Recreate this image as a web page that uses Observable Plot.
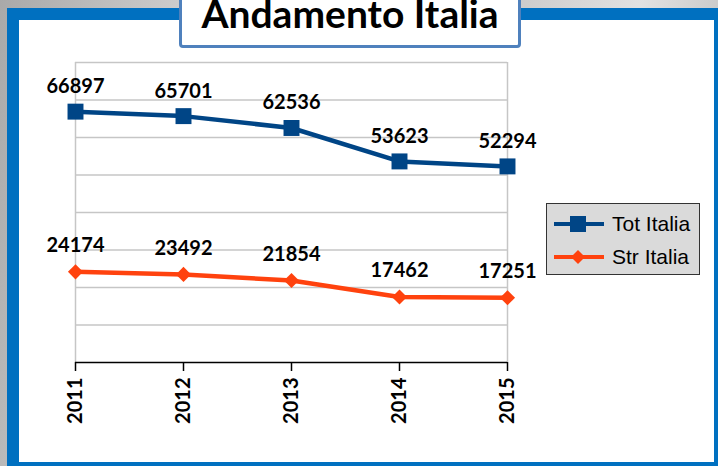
<!DOCTYPE html>
<html>
<head>
<meta charset="utf-8">
<script src="https://cdn.jsdelivr.net/npm/d3@7"></script>
<script src="https://cdn.jsdelivr.net/npm/@observablehq/plot@0.6"></script>
<style>
  html, body { margin: 0; padding: 0; }
  body {
    width: 718px; height: 466px; overflow: hidden; position: relative;
    background: linear-gradient(100deg, #a9a9a9 0%, #d8d8d8 30%, #bdbdbd 55%, #e2e2e2 80%, #b5b5b5 100%);
  }
  #frame {
    position: absolute; left: 7px; top: 8px; width: 695px; height: 442px;
    border-left: 12px solid #0070C0; border-top: 12px solid #0070C0;
    border-right: 6px solid #0070C0; border-bottom: 6px solid #0070C0;
    background: #ffffff;
  }
  #chart { position: absolute; left: 0; top: 0; }
  #titlebox {
    position: absolute; left: 179px; top: -10px; width: 336px; height: 52px;
    border: 3px solid #4F81BD; border-radius: 4px; background: #fff;
    font-family: Lato, "Open Sans", sans-serif; font-weight: bold; font-size: 39px;
    text-align: center; line-height: 1; color: #000; overflow: visible;
  }
  #titlebox span { position: absolute; left: -20px; right: -20px; top: 1px; white-space: nowrap; }
  #legend {
    position: absolute; left: 546px; top: 203px; width: 152px; height: 70px;
    background: #dadada; border: 1.5px solid #333;
    font-family: "Liberation Sans", Arial, sans-serif; font-size: 21px; color: #000;
  }
  .item { position: absolute; left: 7px; height: 24px; display: flex; align-items: center; }
  .item svg { margin-right: 6px; }
</style>
</head>
<body>
<div id="frame"></div>
<div id="chart"></div>
<div id="titlebox"><span>Andamento Italia</span></div>
<div id="legend"></div>
<script>
const years = ["2011", "2012", "2013", "2014", "2015"];
const totItalia = [66897, 65701, 62536, 53623, 52294];
const strItalia = [24174, 23492, 21854, 17462, 17251];
const gridValues = [10000, 20000, 30000, 40000, 50000, 60000, 70000, 80000];
const seriesNames = ["Tot Italia", "Str Italia"];
const seriesColors = ["#004586", "#FF420E"];

const tot = years.map((y, i) => ({year: y, value: totItalia[i]}));
const str = years.map((y, i) => ({year: y, value: strItalia[i]}));

const labelFont = "Lato, 'Open Sans', sans-serif";

const chart = Plot.plot({
  width: 718,
  height: 466,
  marginLeft: 75,
  marginRight: 211,
  marginTop: 62,
  marginBottom: 104,
  style: {background: "transparent", color: "#000", fontFamily: labelFont, overflow: "visible"},
  x: {type: "point", domain: years, padding: 0, label: null},
  y: {domain: [0, 80000], axis: null},
  marks: [
    Plot.ruleY(gridValues, {stroke: "#c6c6c6", strokeWidth: 1.5}),
    Plot.ruleX([years[0], years[years.length - 1]], {stroke: "#c6c6c6", strokeWidth: 1.5}),
    Plot.axisX({tickRotate: -90, tickSize: 9, tickPadding: 6, fontSize: 20, fontWeight: "bold", fontFamily: labelFont, strokeWidth: 1.5, label: null}),
    Plot.ruleY([0], {stroke: "#000", strokeWidth: 1.5}),
    Plot.line(tot, {x: "year", y: "value", stroke: seriesColors[0], strokeWidth: 4.5}),
    Plot.dot(tot, {x: "year", y: "value", symbol: "square", r: 9, fill: seriesColors[0]}),
    Plot.line(str, {x: "year", y: "value", stroke: seriesColors[1], strokeWidth: 4.5}),
    Plot.dot(str, {x: "year", y: "value", symbol: "diamond2", r: 6.8, fill: seriesColors[1]}),
    Plot.text(tot, {x: "year", y: "value", text: d => String(d.value), dy: -25, fontSize: 20, fontWeight: "bold", fill: "#000"}),
    Plot.text(str, {x: "year", y: "value", text: d => String(d.value), dy: -26, fontSize: 20, fontWeight: "bold", fill: "#000"})
  ]
});
document.getElementById("chart").appendChild(chart);

// legend
const legend = document.getElementById("legend");
seriesNames.forEach((name, i) => {
  const item = document.createElement("div");
  item.className = "item";
  item.style.top = (i === 0 ? 8 : 41) + "px";
  const sym = i === 0
    ? `<rect x="16" y="3" width="16" height="16" fill="${seriesColors[i]}"/>`
    : `<path d="M24,4 L31,11 L24,18 L17,11 Z" fill="${seriesColors[i]}"/>`;
  item.innerHTML = `<svg width="52" height="22"><line x1="0" x2="50" y1="11" y2="11" stroke="${seriesColors[i]}" stroke-width="4"/>${sym}</svg><span>${name}</span>`;
  legend.appendChild(item);
});
</script>
</body>
</html>
